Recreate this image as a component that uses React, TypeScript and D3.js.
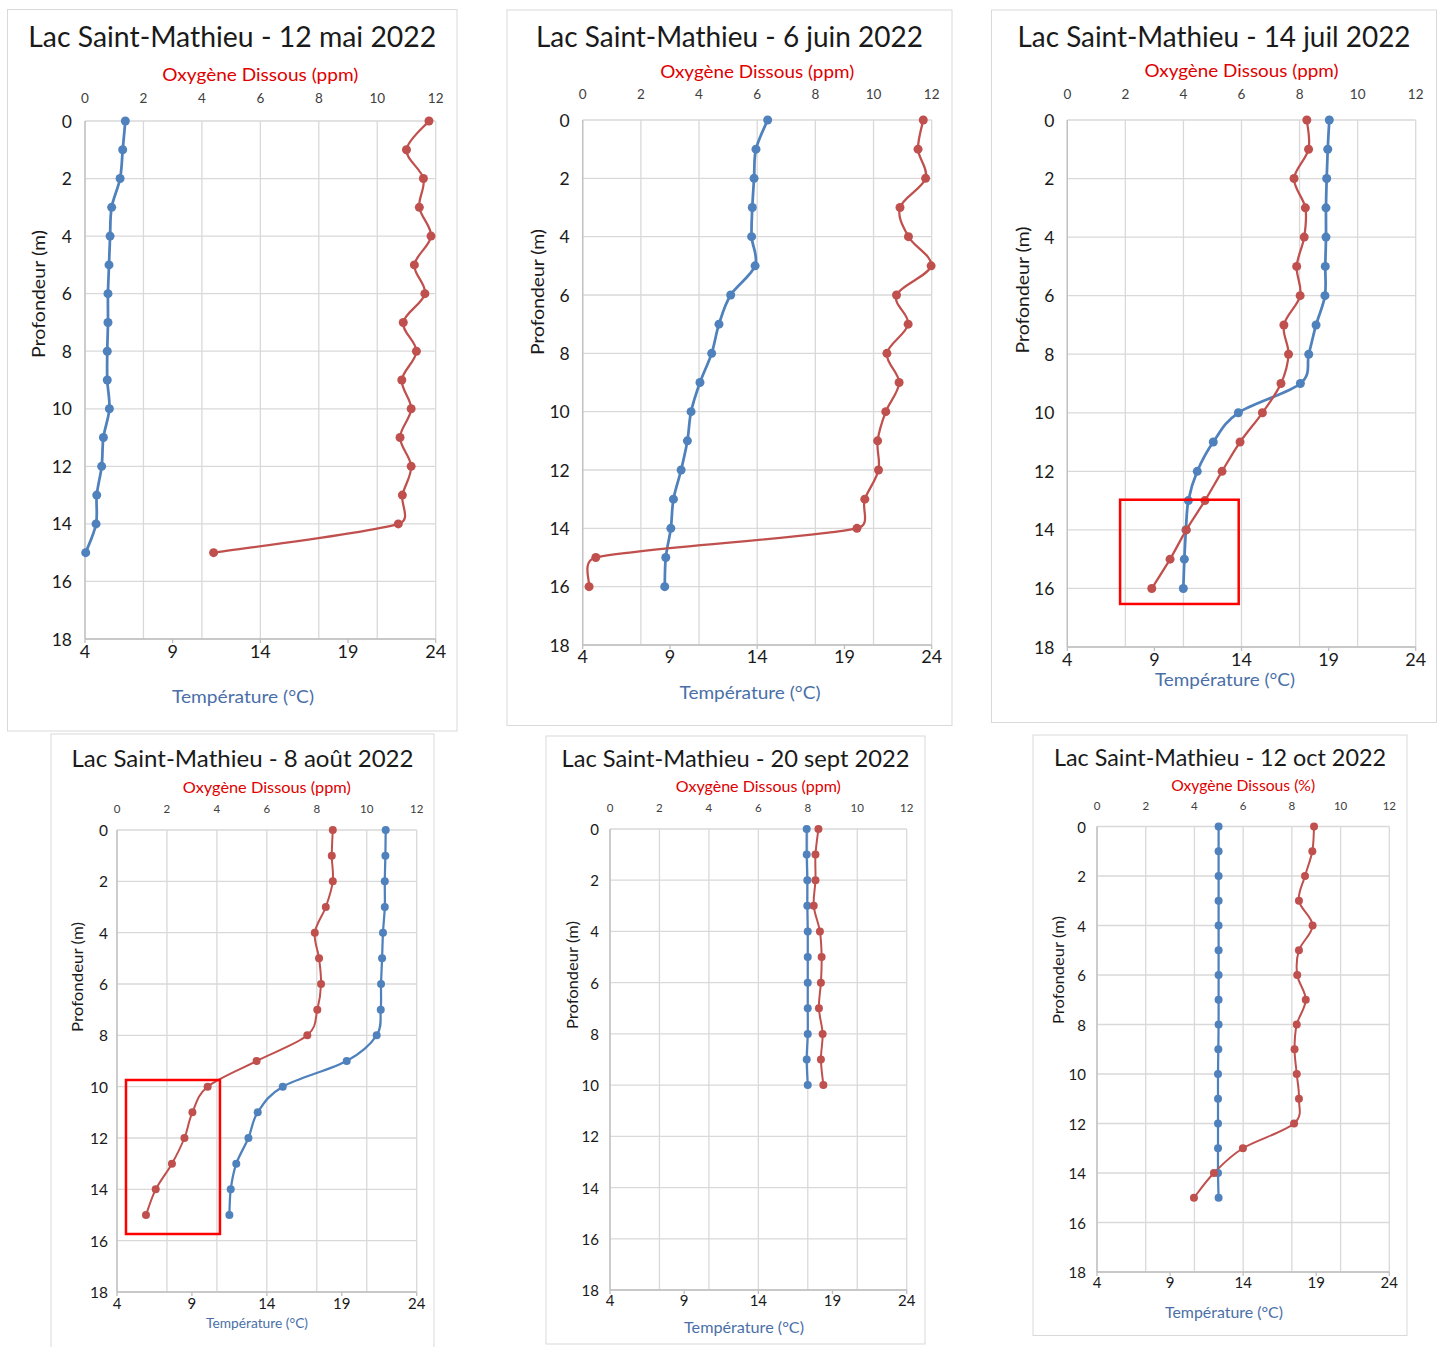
import * as d3 from "d3";

// ---- données ----
const depthTicks = [0, 2, 4, 6, 8, 10, 12, 14, 16, 18];
const oxyTicks = [0, 2, 4, 6, 8, 10, 12];
const tempTicks = [4, 9, 14, 19, 24];

const depths0to15 = [0, 1, 2, 3, 4, 5, 6, 7, 8, 9, 10, 11, 12, 13, 14, 15];
const depths0to16 = [0, 1, 2, 3, 4, 5, 6, 7, 8, 9, 10, 11, 12, 13, 14, 15, 16];
const depths0to10 = [0, 1, 2, 3, 4, 5, 6, 7, 8, 9, 10];

// 12 mai
const tempMai = [6.3, 6.15, 6.0, 5.52, 5.43, 5.37, 5.31, 5.31, 5.27, 5.27, 5.39, 5.05, 4.95, 4.67, 4.63, 4.04];
const oxyMai = [11.77, 11.0, 11.58, 11.44, 11.84, 11.27, 11.63, 10.89, 11.34, 10.84, 11.16, 10.78, 11.16, 10.86, 10.72, 4.4];
// 6 juin
const tempJuin = [14.6, 13.93, 13.82, 13.72, 13.68, 13.88, 12.48, 11.81, 11.39, 10.72, 10.21, 10.0, 9.64, 9.2, 9.05, 8.76, 8.7];
const oxyJuin = [11.71, 11.53, 11.79, 10.91, 11.2, 11.98, 10.79, 11.19, 10.46, 10.88, 10.42, 10.14, 10.17, 9.7, 9.43, 0.45, 0.22];
// 14 juil
const tempJuil = [19.04, 18.95, 18.89, 18.85, 18.85, 18.81, 18.79, 18.28, 17.86, 17.38, 13.82, 12.38, 11.46, 10.95, 10.81, 10.72, 10.66];
const oxyJuil = [8.25, 8.31, 7.81, 8.2, 8.16, 7.9, 8.02, 7.46, 7.62, 7.36, 6.72, 5.95, 5.33, 4.74, 4.1, 3.54, 2.91];
// 8 août
const tempAout = [21.93, 21.91, 21.87, 21.87, 21.75, 21.69, 21.62, 21.6, 21.33, 19.33, 15.06, 13.39, 12.77, 11.96, 11.59, 11.5];
const oxyAout = [8.64, 8.6, 8.64, 8.36, 7.92, 8.09, 8.17, 8.02, 7.62, 5.59, 3.63, 3.02, 2.7, 2.2, 1.55, 1.16];
// 20 sept
const tempSept = [17.26, 17.26, 17.3, 17.3, 17.33, 17.33, 17.33, 17.33, 17.33, 17.26, 17.33];
const oxySept = [8.43, 8.31, 8.31, 8.24, 8.49, 8.56, 8.53, 8.45, 8.6, 8.53, 8.63];
// 12 oct
const tempOct = [12.32, 12.32, 12.32, 12.32, 12.32, 12.32, 12.32, 12.32, 12.32, 12.3, 12.28, 12.28, 12.28, 12.28, 12.28, 12.32];
const oxyOct = [8.91, 8.84, 8.54, 8.29, 8.85, 8.29, 8.22, 8.57, 8.2, 8.11, 8.2, 8.29, 8.09, 5.99, 4.8, 3.98];

// cadres rouges (température °C, profondeur m)
const boxJuil = { t0: 7.03, t1: 13.84, d0: 12.97, d1: 16.53 };
const boxAout = { t0: 4.6, t1: 10.87, d0: 9.74, d1: 15.74 };

const BLUE = "#4f81bd";
const RED = "#c0504d";
const GRID = "#d9d9d9";
const FONT = "Lato, 'Open Sans', sans-serif";

// lissage façon Excel : Catmull-Rom dont les tangentes sont bornées par la longueur du segment
function ExcelSmooth(context) {
  this._context = context;
}
ExcelSmooth.prototype = {
  areaStart() {},
  areaEnd() {},
  lineStart() {
    this._pts = [];
  },
  point(x, y) {
    this._pts.push([+x, +y]);
  },
  lineEnd() {
    const p = this._pts;
    const n = p.length;
    const c = this._context;
    if (!n) return;
    c.moveTo(p[0][0], p[0][1]);
    const tan = (i) => {
      const a = p[Math.max(0, i - 1)];
      const b = p[Math.min(n - 1, i + 1)];
      return [(b[0] - a[0]) / 6, (b[1] - a[1]) / 6];
    };
    const cap = (t, max) => {
      const l = Math.hypot(t[0], t[1]);
      return l > max && l > 0 ? [(t[0] * max) / l, (t[1] * max) / l] : t;
    };
    for (let i = 0; i < n - 1; i++) {
      const a = p[i];
      const b = p[i + 1];
      const d = Math.hypot(b[0] - a[0], b[1] - a[1]);
      const t1 = cap(tan(i), d * 0.5);
      const t2 = cap(tan(i + 1), d * 0.5);
      c.bezierCurveTo(a[0] + t1[0], a[1] + t1[1], b[0] - t2[0], b[1] - t2[1], b[0], b[1]);
    }
  },
};
const excelSmooth = (context) => new ExcelSmooth(context);

const panels = [
  {
    title: "Lac Saint-Mathieu - 12 mai 2022", oxyLabel: "Oxygène Dissous (ppm)",
    depths: depths0to15, temp: tempMai, oxy: oxyMai, box: null,
    frame: [7.5, 9.5, 457, 731], plot: [85, 121, 435.7, 639],
    titleY: 35.5, titleW: 408, titleFs: 28,
    oxyY: 74, oxyW: 196, oxyFs: 18,
    tempX: 243, tempY: 696, tempW: 142, tempFs: 18,
    profX: 38.3, profY: 294, profW: 128, profFs: 18,
    topTickDy: -23, topFs: 13.5, leftDx: -13, leftFs: 17.5, botDy: 12, botFs: 18,
    r: 4.5, wBlue: 2.75, wRed: 2.25,
  },
  {
    title: "Lac Saint-Mathieu - 6 juin 2022", oxyLabel: "Oxygène Dissous (ppm)",
    depths: depths0to16, temp: tempJuin, oxy: oxyJuin, box: null,
    frame: [507, 10, 952, 725.5], plot: [582.7, 120, 931.7, 645],
    titleY: 35.5, titleW: 387, titleFs: 28,
    oxyY: 71, oxyW: 194, oxyFs: 18,
    tempX: 750, tempY: 692, tempW: 141, tempFs: 18,
    profX: 536.7, profY: 292, profW: 126, profFs: 18,
    topTickDy: -26, topFs: 13.5, leftDx: -13, leftFs: 17.5, botDy: 11, botFs: 18,
    r: 4.5, wBlue: 2.75, wRed: 2.25,
  },
  {
    title: "Lac Saint-Mathieu - 14 juil 2022", oxyLabel: "Oxygène Dissous (ppm)",
    depths: depths0to16, temp: tempJuil, oxy: oxyJuil, box: boxJuil,
    frame: [991.5, 10, 1436.5, 722.5], plot: [1067.3, 120, 1415.7, 647],
    titleY: 35.5, titleW: 393, titleFs: 28,
    oxyY: 70, oxyW: 194, oxyFs: 18,
    tempX: 1225, tempY: 679, tempW: 140, tempFs: 18,
    profX: 1022, profY: 290, profW: 127, profFs: 18,
    topTickDy: -26, topFs: 13.5, leftDx: -13, leftFs: 17.5, botDy: 12, botFs: 18,
    r: 4.5, wBlue: 2.75, wRed: 2.25,
  },
  {
    title: "Lac Saint-Mathieu - 8 août 2022", oxyLabel: "Oxygène Dissous (ppm)",
    depths: depths0to15, temp: tempAout, oxy: oxyAout, box: boxAout,
    frame: [51, 734, 434, 1352], plot: [117, 830, 416.7, 1292],
    titleY: 757.5, titleW: 342, titleFs: 23,
    oxyY: 787, oxyW: 168, oxyFs: 15.5,
    tempX: 257, tempY: 1322.5, tempW: 102, tempFs: 13,
    profX: 76.7, profY: 977, profW: 110, profFs: 15,
    topTickDy: -22, topFs: 11.5, leftDx: -9, leftFs: 15.5, botDy: 11, botFs: 15,
    r: 4, wBlue: 2.25, wRed: 2,
  },
  {
    title: "Lac Saint-Mathieu - 20 sept 2022", oxyLabel: "Oxygène Dissous (ppm)",
    depths: depths0to10, temp: tempSept, oxy: oxySept, box: null,
    frame: [546, 736, 925, 1344], plot: [610, 829, 906.7, 1290],
    titleY: 757.5, titleW: 348, titleFs: 23,
    oxyY: 786, oxyW: 165, oxyFs: 15.5,
    tempX: 744, tempY: 1326.5, tempW: 120, tempFs: 15,
    profX: 571.7, profY: 975, profW: 108, profFs: 15,
    topTickDy: -21.5, topFs: 11.5, leftDx: -11, leftFs: 15, botDy: 10, botFs: 15,
    r: 4, wBlue: 2.25, wRed: 2,
  },
  {
    title: "Lac Saint-Mathieu - 12 oct 2022", oxyLabel: "Oxygène Dissous (%)",
    depths: depths0to15, temp: tempOct, oxy: oxyOct, box: null,
    frame: [1033, 735, 1407, 1335.5], plot: [1097, 826.5, 1389.3, 1272],
    titleY: 757, titleW: 332, titleFs: 23,
    oxyY: 785, oxyW: 144, oxyFs: 15.5,
    tempX: 1224, tempY: 1312, tempW: 118, tempFs: 15,
    profX: 1058.3, profY: 970, profW: 108, profFs: 15,
    topTickDy: -21, topFs: 11.5, leftDx: -11, leftFs: 15, botDy: 10, botFs: 15,
    r: 4, wBlue: 2.25, wRed: 2,
  },
];

function Panel({ p }) {
  const [x0, y0, x1, y1] = p.plot;
  const [fx0, fy0, fx1, fy1] = p.frame;
  const xT = d3.scaleLinear().domain([4, 24]).range([x0, x1]);
  const xO = d3.scaleLinear().domain([0, 12]).range([x0, x1]);
  const y = d3.scaleLinear().domain([0, 18]).range([y0, y1]);

  const tempPts = p.depths.map((d, i) => [xT(p.temp[i]), y(d)]);
  const oxyPts = p.depths.map((d, i) => [xO(p.oxy[i]), y(d)]);
  const line = d3.line().curve(excelSmooth);

  return (
    <g fontFamily={FONT}>
      <rect x={fx0} y={fy0} width={fx1 - fx0} height={fy1 - fy0} fill="white" stroke={GRID} strokeWidth={1} />
      {/* quadrillage */}
      {depthTicks.map((d) => (
        <line key={"h" + d} x1={x0} x2={x1} y1={y(d)} y2={y(d)} stroke={GRID} strokeWidth={1.3} />
      ))}
      {oxyTicks.map((o) => (
        <line key={"v" + o} x1={xO(o)} x2={xO(o)} y1={y0} y2={y1} stroke={GRID} strokeWidth={1.3} />
      ))}
      <line x1={x0} x2={x0} y1={y0} y2={y1} stroke="#bfbfbf" strokeWidth={1.3} />
      <line x1={x0} x2={x1} y1={y1} y2={y1} stroke="#bfbfbf" strokeWidth={1.3} />
      {tempTicks.map((t) => (
        <line key={"bt" + t} x1={xT(t)} x2={xT(t)} y1={y1} y2={y1 + 4} stroke="#bfbfbf" strokeWidth={1.3} />
      ))}

      {/* étiquettes des axes */}
      {oxyTicks.map((o) => (
        <text key={"ot" + o} x={xO(o)} y={y0 + p.topTickDy} fontSize={p.topFs} fill="#404040"
          textAnchor="middle" dominantBaseline="central">{o}</text>
      ))}
      {depthTicks.map((d) => (
        <text key={"dt" + d} x={x0 + p.leftDx} y={y(d)} fontSize={p.leftFs} fill="#1a1a1a"
          textAnchor="end" dominantBaseline="central">{d}</text>
      ))}
      {tempTicks.map((t) => (
        <text key={"tt" + t} x={xT(t)} y={y1 + p.botDy} fontSize={p.botFs} fill="#1a1a1a"
          textAnchor="middle" dominantBaseline="central">{t}</text>
      ))}

      <text x={(fx0 + fx1) / 2} y={p.titleY} fontSize={p.titleFs} fill="#1a1a1a" textAnchor="middle"
        dominantBaseline="central" textLength={p.titleW} lengthAdjust="spacingAndGlyphs">{p.title}</text>
      <text x={(x0 + x1) / 2} y={p.oxyY} fontSize={p.oxyFs} fill="#e00000" textAnchor="middle"
        dominantBaseline="central" textLength={p.oxyW} lengthAdjust="spacingAndGlyphs">{p.oxyLabel}</text>
      <text x={p.tempX} y={p.tempY} fontSize={p.tempFs} fill="#4a6fa8" textAnchor="middle"
        dominantBaseline="central" textLength={p.tempW} lengthAdjust="spacingAndGlyphs">Température (°C)</text>
      <text transform={`translate(${p.profX},${p.profY}) rotate(-90)`} fontSize={p.profFs} fill="#1a1a1a"
        textAnchor="middle" dominantBaseline="central" textLength={p.profW}
        lengthAdjust="spacingAndGlyphs">Profondeur (m)</text>

      {/* séries */}
      <path d={line(tempPts)} fill="none" stroke={BLUE} strokeWidth={p.wBlue} />
      <path d={line(oxyPts)} fill="none" stroke={RED} strokeWidth={p.wRed} />
      {tempPts.map((pt, i) => (
        <circle key={"tc" + i} cx={pt[0]} cy={pt[1]} r={p.r} fill={BLUE} />
      ))}
      {oxyPts.map((pt, i) => (
        <circle key={"oc" + i} cx={pt[0]} cy={pt[1]} r={p.r} fill={RED} />
      ))}

      {p.box && (
        <rect x={xT(p.box.t0)} y={y(p.box.d0)} width={xT(p.box.t1) - xT(p.box.t0)}
          height={y(p.box.d1) - y(p.box.d0)} fill="none" stroke="#ff0000" strokeWidth={2.5} />
      )}
    </g>
  );
}

export default function App() {
  return (
    <svg width={1443} height={1347} style={{ position: "absolute", left: 0, top: 0, background: "white" }}>
      <rect width={1443} height={1347} fill="white" />
      {panels.map((p, i) => (
        <Panel key={i} p={p} />
      ))}
    </svg>
  );
}
